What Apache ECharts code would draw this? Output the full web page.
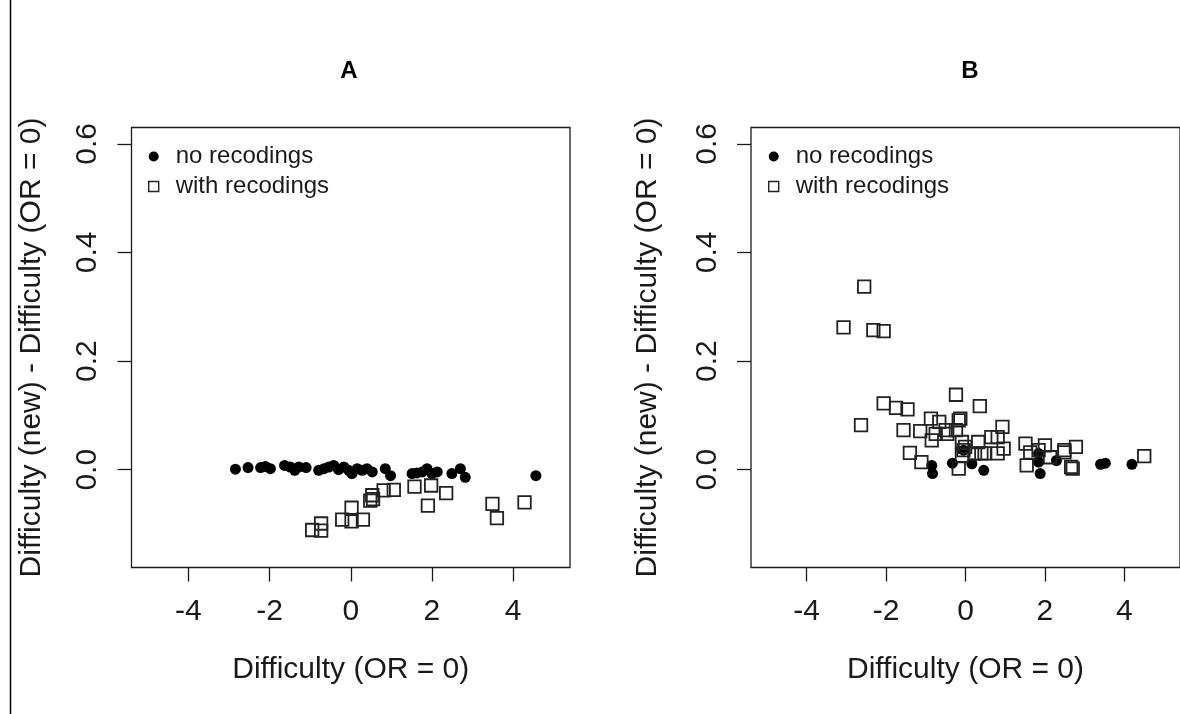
<!DOCTYPE html>
<html>
<head>
<meta charset="utf-8">
<script src="https://cdn.jsdelivr.net/npm/echarts@6/dist/echarts.min.js"></script>
<style>
html,body{margin:0;padding:0;background:#fff;}
#chart{width:1180px;height:714px;}
</style>
</head>
<body>
<div id="chart"></div>
<script>
// ---- Data ----
const panelTitles = ['A', 'B'];
const seriesNames = ['no recodings', 'with recodings'];
const xTickValues = [-4, -2, 0, 2, 4];
const xTickLabels = ['-4', '-2', '0', '2', '4'];
const yTickValues = [0, 0.2, 0.4, 0.6];
const yTickLabels = ['0.0', '0.2', '0.4', '0.6'];
const xTitle = 'Difficulty (OR = 0)';
const yTitle = 'Difficulty (new) - Difficulty (OR = 0)';

const aNoRecX = [-2.84,-2.53,-2.22,-2.10,-1.98,-1.63,-1.49,-1.38,-1.28,-1.10,-0.79,-0.66,-0.54,-0.42,-0.30,-0.17,-0.05,0.03,0.16,0.28,0.40,0.53,0.85,0.98,1.51,1.63,1.76,1.88,2.00,2.13,2.49,2.70,2.82,4.56];
const aNoRecY = [0.001,0.004,0.004,0.006,0.002,0.008,0.005,-0.001,0.005,0.004,-0.001,0.002,0.005,0.008,0.000,0.005,-0.001,-0.007,0.002,-0.001,0.002,-0.004,0.002,-0.011,-0.007,-0.006,-0.004,0.002,-0.007,-0.004,-0.007,0.002,-0.014,-0.011];
const aRecX = [-0.95,-0.73,-0.73,-0.21,0.02,0.02,0.30,0.48,0.53,0.55,0.81,1.06,1.57,1.98,1.90,2.35,3.49,3.60,4.28];
const aRecY = [-0.111,-0.099,-0.112,-0.092,-0.070,-0.095,-0.092,-0.057,-0.047,-0.054,-0.038,-0.037,-0.031,-0.029,-0.066,-0.043,-0.063,-0.089,-0.060];

const bNoRecX = [-0.85,-0.83,-0.33,-0.05,0.16,0.46,1.84,1.88,1.84,2.29,3.40,3.52,4.19];
const bNoRecY = [0.008,-0.007,0.012,0.036,0.011,-0.001,0.030,-0.007,0.014,0.017,0.010,0.012,0.010];
const bRecX = [-2.55,-3.07,-2.32,-2.06,-0.24,0.36,-2.06,-1.75,-1.46,-2.63,-1.56,-1.14,-0.87,-0.66,-0.85,-0.75,-0.50,-0.46,-0.24,-0.17,-0.13,-1.40,-1.11,-0.17,-0.09,-0.05,-0.09,-0.01,0.32,0.24,0.40,0.48,0.81,0.93,0.96,0.81,0.65,1.51,1.54,1.63,1.84,2.00,2.13,2.49,2.78,2.66,2.49,4.50,2.70];
const bRecY = [0.337,0.262,0.257,0.255,0.138,0.117,0.122,0.114,0.111,0.082,0.073,0.071,0.094,0.088,0.054,0.066,0.073,0.066,0.073,0.091,0.094,0.031,0.014,0.002,0.051,0.036,0.026,0.042,0.051,0.030,0.030,0.030,0.060,0.079,0.039,0.030,0.060,0.048,0.008,0.032,0.036,0.045,0.023,0.036,0.042,0.005,0.032,0.025,0.002];

// ---- Build ----
const zip = (xs, ys) => xs.map((x, i) => [x, ys[i]]);
const FONT = '"Liberation Sans", Arial, sans-serif';
const INK = '#1a1a1a';

const panels = [
  { left: 131.5, nameGapY: 99.5, legendLeft: 148, titleX: 349, noRec: zip(aNoRecX, aNoRecY), rec: zip(aRecX, aRecY) },
  { left: 751, nameGapY: 103, legendLeft: 768, titleX: 970, noRec: zip(bNoRecX, bNoRecY), rec: zip(bRecX, bRecY) }
];
const gridTop = 127.5, gridHeight = 440, gridWidth = 438.5;

const chart = echarts.init(document.getElementById('chart'), null, { renderer: 'canvas' });

const option = {
  animation: false,
  backgroundColor: '#fff',
  textStyle: { fontFamily: FONT, color: INK },
  grid: panels.map(p => ({
    left: p.left, top: gridTop, width: gridWidth, height: gridHeight,
    show: true, borderColor: INK, borderWidth: 1.3, backgroundColor: 'transparent',
    containLabel: false
  })),
  xAxis: panels.map((p, i) => ({
    type: 'value', gridIndex: i, min: -5.4, max: 5.4, position: 'bottom',
    axisLine: { show: false, onZero: false },
    splitLine: { show: false },
    axisTick: { show: true, inside: false, length: 14, customValues: xTickValues, lineStyle: { color: INK, width: 1.3 } },
    axisLabel: {
      show: true, customValues: xTickValues, margin: 44, verticalAlign: 'middle',
      fontSize: 30, fontFamily: FONT, color: INK,
      formatter: v => { const k = xTickValues.indexOf(v); return k >= 0 ? xTickLabels[k] : String(v); }
    },
    name: xTitle, nameLocation: 'middle', nameGap: 102,
    nameTextStyle: { fontSize: 30, fontFamily: FONT, color: INK, verticalAlign: 'middle' }
  })),
  yAxis: panels.map((p, i) => ({
    type: 'value', gridIndex: i, min: -0.18, max: 0.63, position: 'left',
    axisLine: { show: false, onZero: false },
    splitLine: { show: false },
    axisTick: { show: true, inside: false, length: 14, customValues: yTickValues, lineStyle: { color: INK, width: 1.3 } },
    axisLabel: {
      show: true, customValues: yTickValues, margin: 43.5, rotate: 90,
      align: 'center', verticalAlign: 'middle',
      fontSize: 30, fontFamily: FONT, color: INK,
      formatter: v => { const k = yTickValues.findIndex(t => Math.abs(t - v) < 1e-9); return k >= 0 ? yTickLabels[k] : v.toFixed(1); }
    },
    name: yTitle, nameLocation: 'middle', nameGap: p.nameGapY, nameRotate: 90,
    nameTextStyle: { fontSize: 30, fontFamily: FONT, color: INK, align: 'center', verticalAlign: 'middle' }
  })),
  legend: panels.map((p, i) => ({
    orient: 'vertical', left: p.legendLeft, top: 144.5, padding: 0,
    itemWidth: 10, itemHeight: 10, itemGap: 6,
    selectedMode: false,
    itemStyle: { borderWidth: 1.4 },
    data: [
      { name: seriesNames[0] + (i ? '\u200b' : ''), icon: 'circle' },
      { name: seriesNames[1] + (i ? '\u200b' : ''), icon: 'rect' }
    ],
    textStyle: { fontSize: 24, lineHeight: 24, fontFamily: FONT, color: INK, padding: [0, 0, 0, 12] },
    formatter: n => n.replace('\u200b', '')
  })),
  graphic: [
    { type: 'line', shape: { x1: 10.5, y1: 0, x2: 10.5, y2: 714 }, style: { stroke: '#000', lineWidth: 1.5 }, silent: true },
    ...panels.map((p, i) => ({
      type: 'text', x: p.titleX, y: 71, silent: true,
      style: { text: panelTitles[i], font: 'bold 24px ' + FONT, fill: '#000', textAlign: 'center', textVerticalAlign: 'middle' }
    }))
  ],
  series: panels.flatMap((p, i) => [
    {
      type: 'scatter', name: seriesNames[0] + (i ? '\u200b' : ''), xAxisIndex: i, yAxisIndex: i,
      data: p.noRec, symbol: 'circle', symbolSize: 11,
      itemStyle: { color: '#000', opacity: 1 },
      emphasis: { disabled: true }, silent: true
    },
    {
      type: 'scatter', name: seriesNames[1] + (i ? '\u200b' : ''), xAxisIndex: i, yAxisIndex: i,
      data: p.rec, symbol: 'rect', symbolSize: 12.5,
      itemStyle: { color: 'rgba(255,255,255,0)', borderColor: '#222', borderWidth: 1.8, opacity: 1 },
      emphasis: { disabled: true }, silent: true
    }
  ])
};
chart.setOption(option);
</script>
</body>
</html>
